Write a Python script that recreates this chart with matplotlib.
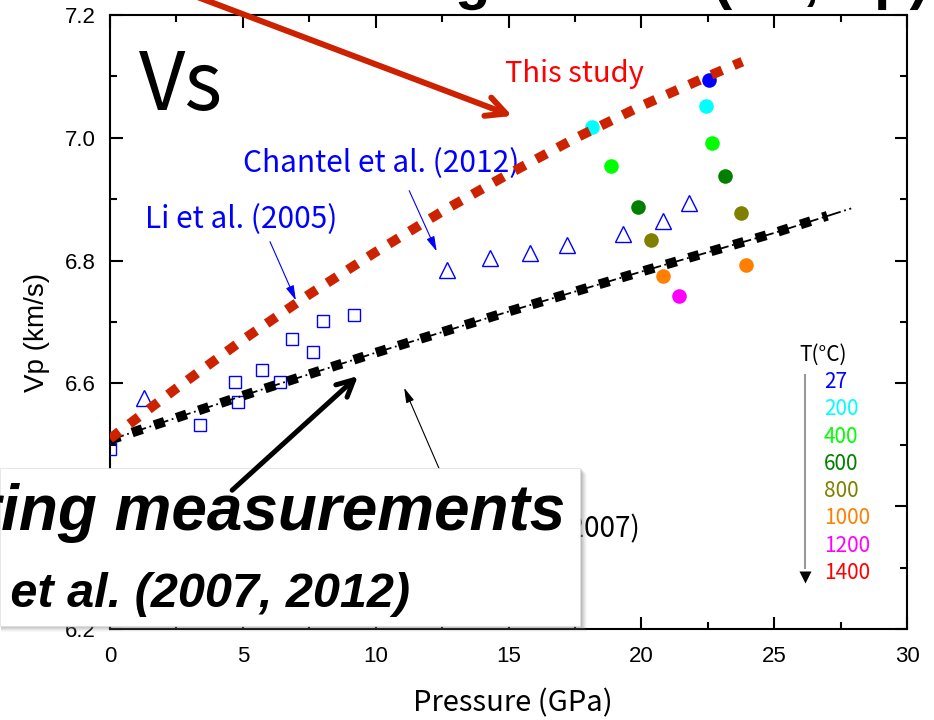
import matplotlib
matplotlib.use("Agg")
import matplotlib.pyplot as plt
from matplotlib.patches import Rectangle, PathPatch
from matplotlib.textpath import TextPath
from matplotlib.font_manager import FontProperties
from matplotlib.transforms import Affine2D
from matplotlib.ticker import MultipleLocator, FormatStrFormatter

plt.rcParams['font.family'] = ['Liberation Sans', 'DejaVu Sans']
JP = ['Noto Sans CJK JP', 'DejaVu Sans']

# This study: Vp curve
p_study = [0, 2.5, 5, 7.5, 10, 12.5, 15, 17.5, 20, 22.5, 23.8]
v_study = [6.510, 6.592, 6.671, 6.745, 6.814, 6.880, 6.941, 6.999, 7.052, 7.100, 7.124]

# Brillouin scattering line
p_bls = [0, 5, 10, 15, 20, 25, 27.9]
v_bls = [6.508, 6.580, 6.650, 6.717, 6.782, 6.845, 6.885]

# Li et al. (2005)
p_li = [0.0, 3.39, 4.82, 4.70, 5.72, 6.40, 6.85, 7.64, 8.02, 9.18]
v_li = [6.493, 6.532, 6.570, 6.602, 6.622, 6.602, 6.672, 6.651, 6.702, 6.711]

# Chantel et al. (2012)
p_ch = [1.28, 12.68, 14.30, 15.81, 17.20, 19.31, 20.81, 21.79]
v_ch = [6.576, 6.785, 6.804, 6.812, 6.825, 6.843, 6.864, 6.894]

# high P-T points, grouped by temperature
temps = ['27', '200', '400', '600', '800', '1000', '1200', '1400']
t_colors = ['#0000FF', '#00FFFF', '#00FF00', '#008000', '#808000',
            '#FF8000', '#FF00FF', '#FF0000']
p_hot = [[22.54], [22.43, 18.14], [18.86, 22.66], [19.87, 23.15],
         [20.36, 23.75], [20.81, 23.94], [21.42], []]
v_hot = [[7.094], [7.052, 7.018], [6.954, 6.992], [6.887, 6.938],
         [6.834, 6.878], [6.775, 6.793], [6.742], []]

fig = plt.figure(figsize=(9.34, 7.2), dpi=100)
ax = fig.add_axes([110 / 934, 1 - 629 / 720, 797 / 934, 614 / 720])
ax.set_xlim(0, 30)
ax.set_ylim(6.2, 7.2)

for s in ax.spines.values():
    s.set_linewidth(1.5)
ax.xaxis.set_major_locator(MultipleLocator(5))
ax.xaxis.set_minor_locator(MultipleLocator(2.5))
ax.yaxis.set_major_locator(MultipleLocator(0.2))
ax.yaxis.set_minor_locator(MultipleLocator(0.1))
ax.yaxis.set_major_formatter(FormatStrFormatter('%.1f'))
ax.tick_params(which='both', direction='in', top=True, right=True, width=1.5)
ax.tick_params(which='major', length=9, labelsize=16)
ax.tick_params(axis='x', which='major', pad=12)
ax.tick_params(axis='y', which='major', pad=10)
ax.tick_params(which='minor', length=5)

# high P-T circles
for px, vy, c in zip(p_hot, v_hot, t_colors):
    ax.plot(px, vy, 'o', ms=10.5, color=c, mec='none', zorder=3)

ax.plot(p_li, v_li, 's', ms=9, mfc='none', mec='#0000FF', mew=1, zorder=3)
ax.plot(p_ch, v_ch, '^', ms=11.5, mfc='none', mec='#0000FF', mew=1, zorder=3)

# Brillouin line: thin dash-dot under thick square dots
ax.plot(p_bls, v_bls, color='black', lw=1.3, ls=(0, (8, 2, 1, 2)), zorder=4)
ax.plot(p_bls[:-1] + [27.0], v_bls[:-1] + [6.873], color='black', lw=7,
        ls=(0, (1.1, 1.3)), dash_capstyle='butt', zorder=4)

# this study
ax.plot(p_study, v_study, color='#CC2200', lw=7, ls=(0, (1.2, 1.3)),
        dash_capstyle='butt', zorder=5)

ax.text(1.1, 7.045, 'Vs', fontsize=58, family=JP, va='baseline')
ax.text(14.87, 7.091, 'This study', fontsize=21, color='#FF0000', family=JP,
        va='baseline')
ax.text(5.0, 6.944, 'Chantel et al. (2012)', fontsize=21.5, color='#0000FF',
        family=JP, va='baseline')
ax.text(1.32, 6.853, 'Li et al. (2005)', fontsize=21.5, color='#0000FF',
        family=JP, va='baseline')
ax.text(19.95, 6.35, 'Kono et al. (2007)', fontsize=20, ha='right',
        family=JP, va='baseline')

# pointer arrows
blue_arrow = dict(arrowstyle='-|>,head_length=0.9,head_width=0.25',
                  color='#0000FF', lw=0.8)
ax.annotate('', xy=(7.04, 6.731), xytext=(5.98, 6.835), arrowprops=blue_arrow)
ax.annotate('', xy=(12.34, 6.811), xytext=(11.22, 6.918), arrowprops=blue_arrow)
ax.annotate('', xy=(11.03, 6.597), xytext=(12.7, 6.43),
            arrowprops=dict(arrowstyle='-|>,head_length=0.9,head_width=0.25',
                            color='black', lw=0.8))

# temperature key
key_x = 26.16
ax.plot([key_x, key_x], [6.614, 6.30], color='#999999', lw=1.5, zorder=2)
ax.plot(key_x, 6.285, 'v', ms=8, color='black', mec='none', zorder=2)
ax.text(26.85, 6.646, 'T(°C)', fontsize=15, ha='center', va='center',
        family=JP)
for i, (t, c) in enumerate(zip(temps, t_colors)):
    ax.text(26.87, 7.2 - (367 + 27.3 * i) / 614, t, fontsize=15, color=c,
            va='center', family=JP)

# big red arrow
ax.annotate('', xy=(15.24, 7.034), xytext=(0.19, 7.28),
            arrowprops=dict(arrowstyle='->,head_length=1.4,head_width=0.7',
                            color='#CC2200', lw=4.3),
            annotation_clip=False)

# overlay box with soft shadow, drawn inside the axes so it hides ticks
ff = fig.transFigure
bx, by, bw, bh = 0, 1 - 626 / 720, 580 / 934, 158 / 720
for k, a in zip(range(6, 0, -1), [0.05, 0.07, 0.09, 0.12, 0.15, 0.2]):
    ax.add_patch(Rectangle((bx + 1 / 934, by - k / 720), bw + k / 934, bh,
                           transform=ff, facecolor='#808080', edgecolor='none',
                           alpha=a, zorder=10, clip_on=False))
ax.add_patch(Rectangle((bx, by), bw, bh, transform=ff, facecolor='white',
                       edgecolor='#dddddd', lw=0.5, zorder=11, clip_on=False))
ax.text(565 / 934, 1 - 530 / 720, 'Brillouin scattering measurements',
        transform=ff, fontsize=46, fontweight='bold', fontstyle='italic',
        ha='right', va='baseline', zorder=12, clip_on=False)
ax.text(410 / 934, 1 - 607 / 720, 'Sinogeikin et al. (2007, 2012)',
        transform=ff, fontsize=35, fontweight='bold', fontstyle='italic',
        ha='right', va='baseline', zorder=12, clip_on=False)

ax.annotate('', xy=(9.41, 6.615), xytext=(4.52, 6.423),
            arrowprops=dict(arrowstyle='->,head_length=1.2,head_width=0.6',
                            color='black', lw=3.6),
            annotation_clip=False, zorder=13)

# heading sits above the canvas, only its descenders show;
# drawn as a path so it can hang past the top edge
head = TextPath((0, 0), 'Brillouin scattering results (Vs, Vp)', size=58,
                prop=FontProperties(family='Liberation Sans', weight='bold'))
hx1 = head.get_extents().x1
fig.add_artist(PathPatch(head, transform=Affine2D().translate(926 - hx1, 722),
                         facecolor='black', edgecolor='none'))

fig.text(37 / 934, 1 - 332 / 720, 'Vp (km/s)', fontsize=20, rotation=90,
         ha='center', va='center')
fig.text(513 / 934, 1 - 703 / 720, 'Pressure (GPa)', fontsize=21,
         ha='center', va='center', family=JP)

fig.savefig('out.png', dpi=100)
